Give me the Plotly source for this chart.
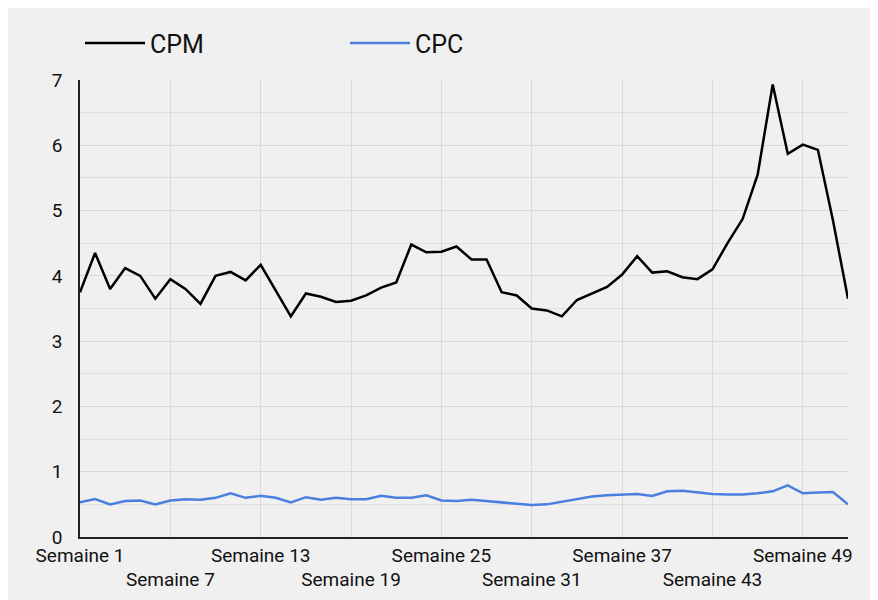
import plotly.graph_objects as go

weeks = list(range(1, 53))
cpm = [3.75, 4.35, 3.8, 4.12, 4.0, 3.65, 3.95, 3.8, 3.57, 4.0, 4.06, 3.93, 4.17, 3.78, 3.38,
       3.73, 3.68, 3.6, 3.62, 3.7, 3.82, 3.9, 4.48, 4.36, 4.37, 4.45, 4.25, 4.25, 3.75, 3.7,
       3.5, 3.47, 3.38, 3.63, 3.73, 3.83, 4.02, 4.3, 4.05, 4.07, 3.98, 3.95, 4.1, 4.5, 4.87,
       5.55, 6.93, 5.87, 6.01, 5.93, 4.85, 3.65]
cpc = [0.53, 0.58, 0.5, 0.55, 0.56, 0.5, 0.56, 0.58, 0.57, 0.6, 0.67, 0.6, 0.63, 0.6, 0.53,
       0.61, 0.57, 0.6, 0.58, 0.58, 0.63, 0.6, 0.6, 0.64, 0.56, 0.55, 0.57, 0.55, 0.52, 0.5,
       0.49, 0.5, 0.54, 0.59, 0.62, 0.64, 0.65, 0.66, 0.63, 0.7, 0.71, 0.68, 0.66, 0.65, 0.65,
       0.67, 0.7, 0.79, 0.67, 0.68, 0.69, 0.5]
tick_weeks = [1, 7, 13, 19, 25, 31, 37, 43, 49]
tick_text = [("Semaine %d" % w) if i % 2 == 0 else ("<br>Semaine %d" % w) for i, w in enumerate(tick_weeks)]

fig = go.Figure()
fig.add_trace(go.Scatter(x=weeks, y=cpm, name="CPM", mode="lines", line=dict(color="#000000", width=2.5)))
fig.add_trace(go.Scatter(x=weeks, y=cpc, name="CPC", mode="lines", line=dict(color="#4a7fe0", width=2.5)))

fig.update_layout(
    width=878, height=600,
    paper_bgcolor="#f0f0f0", plot_bgcolor="#f0f0f0",
    margin=dict(l=72, r=38, t=72, b=71),
    font=dict(family="Roboto", size=19, color="#111111"),
    legend=dict(orientation="h", x=0.0, y=1.03, xanchor="left", yanchor="bottom",
                font=dict(size=25), itemwidth=60, entrywidth=190, bgcolor="rgba(0,0,0,0)"),
    showlegend=True,
)
fig.update_xaxes(range=[1, 52], tickvals=tick_weeks, ticktext=tick_text, showgrid=True,
                 gridcolor="#d9d9d9", showline=True, linecolor="#222222", linewidth=1.5,
                 ticks="", zeroline=False, tickangle=0, automargin=False)
fig.update_yaxes(range=[0, 7], tickvals=[0, 1, 2, 3, 4, 5, 6, 7], showgrid=True, gridcolor="#d9d9d9",
                 minor=dict(dtick=0.5, showgrid=True, gridcolor="#dedede"),
                 showline=True, linecolor="#222222", linewidth=1.5, zeroline=False, ticks="",
                 ticklabelstandoff=12, automargin=False)
fig.write_html("out.html")
